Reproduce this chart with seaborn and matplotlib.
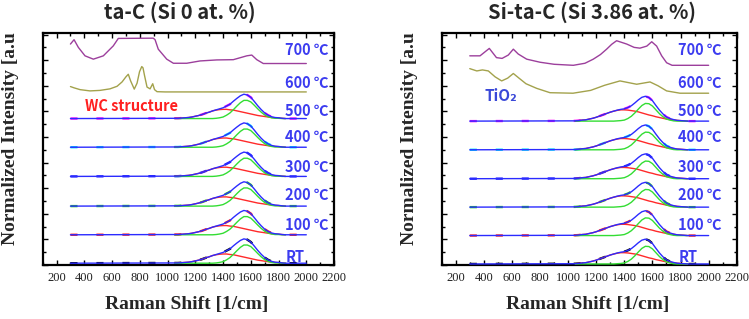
import matplotlib
matplotlib.use("Agg")
import matplotlib.pyplot as plt
from matplotlib.ticker import MultipleLocator
import pandas as pd
import seaborn as sns

# ---- data ---------------------------------------------------------------
TEMP_LABELS = ["RT", "100 ℃", "200 ℃", "300 ℃", "400 ℃", "500 ℃", "600 ℃", "700 ℃"]
LABEL_Y = [0.32, 1.55, 2.72, 3.82, 5.00, 6.03, 7.10, 8.38]
RAW_COLORS = ["black", "#ff2020", "#22cc22", "#2020ff", "#00e0ff", "#ff00ff"]

# x positions (1/cm) of the fitted D / G band samples
FIT_X = [1050, 1075, 1100, 1125, 1150, 1175, 1200, 1225, 1250, 1275, 1300,
         1325, 1350, 1375, 1400, 1425, 1450, 1475, 1500, 1525, 1550, 1575,
         1600, 1625, 1650, 1675, 1700, 1725, 1750, 1775, 1800, 1825, 1850]

# ta-C (Si 0 at. %)
TAC_OFFSETS = [0.07, 1.18, 2.30, 3.46, 4.60, 5.72]
TAC_D = [0.01, 0.01, 0.02, 0.03, 0.04, 0.06, 0.09, 0.12, 0.16, 0.21, 0.25,
         0.30, 0.33, 0.35, 0.36, 0.36, 0.34, 0.33, 0.30, 0.27, 0.24, 0.21,
         0.18, 0.15, 0.12, 0.10, 0.08, 0.06, 0.04, 0.03, 0.02, 0.01, 0.00]
TAC_G = [0.00, 0.00, 0.00, 0.00, 0.00, 0.00, 0.00, 0.00, 0.00, 0.00, 0.00,
         0.00, 0.01, 0.03, 0.06, 0.13, 0.22, 0.35, 0.49, 0.62, 0.71, 0.71,
         0.65, 0.52, 0.38, 0.25, 0.14, 0.07, 0.03, 0.01, 0.01, 0.00, 0.00]
TAC_SUM = [0.01, 0.01, 0.02, 0.03, 0.04, 0.06, 0.09, 0.12, 0.16, 0.21, 0.25,
           0.30, 0.34, 0.38, 0.42, 0.49, 0.56, 0.68, 0.79, 0.89, 0.95, 0.92,
           0.83, 0.67, 0.50, 0.35, 0.22, 0.13, 0.07, 0.04, 0.03, 0.01, 0.00]
TAC_600_X = [300, 326, 369, 441, 513, 585, 636, 672, 700, 717, 733, 760, 780,
             798, 814, 823, 834, 852, 874, 893, 906, 924, 982, 2000]
TAC_600_Y = [6.97, 6.92, 6.85, 6.80, 6.82, 6.88, 6.98, 7.15, 7.35, 7.45, 7.20,
             6.87, 7.10, 7.55, 7.75, 7.70, 7.40, 6.95, 6.88, 7.08, 6.85, 6.77,
             6.76, 6.76]
TAC_700_X = [300, 326, 357, 405, 465, 537, 609, 645, 897, 910, 933, 994, 1042,
             1138, 1234, 1355, 1474, 1571, 1607, 1643, 1690, 2000]
TAC_700_Y = [8.63, 8.80, 8.50, 8.17, 8.04, 8.17, 8.56, 8.85, 8.86, 8.80, 8.43,
             8.04, 7.88, 7.88, 7.97, 8.01, 8.02, 8.17, 8.20, 8.02, 7.87, 7.87]

# Si-ta-C (Si 3.86 at. %)
SITAC_OFFSETS = [0.04, 1.15, 2.26, 3.37, 4.50, 5.62]
SITAC_D = [0.01, 0.02, 0.04, 0.05, 0.08, 0.11, 0.15, 0.20, 0.25, 0.30, 0.35,
           0.39, 0.42, 0.44, 0.44, 0.43, 0.41, 0.39, 0.36, 0.32, 0.28, 0.24,
           0.21, 0.17, 0.14, 0.11, 0.08, 0.06, 0.05, 0.03, 0.02, 0.01, 0.00]
SITAC_G = [0.00, 0.00, 0.00, 0.00, 0.00, 0.00, 0.00, 0.00, 0.00, 0.00, 0.00,
           0.00, 0.01, 0.02, 0.04, 0.10, 0.19, 0.32, 0.47, 0.61, 0.69, 0.68,
           0.59, 0.44, 0.29, 0.17, 0.08, 0.04, 0.01, 0.00, 0.00, 0.00, 0.00]
SITAC_SUM = [0.01, 0.02, 0.04, 0.05, 0.08, 0.11, 0.15, 0.20, 0.25, 0.30, 0.35,
             0.39, 0.43, 0.46, 0.48, 0.53, 0.60, 0.71, 0.83, 0.93, 0.97, 0.92,
             0.80, 0.61, 0.43, 0.28, 0.16, 0.10, 0.06, 0.03, 0.02, 0.01, 0.00]
SITAC_600_X = [300, 350, 390, 432, 480, 527, 570, 610, 650, 700, 776, 871,
               1035, 1160, 1260, 1369, 1488, 1583, 1640, 1701, 1796, 2000]
SITAC_600_Y = [7.67, 7.58, 7.62, 7.58, 7.35, 7.19, 7.30, 7.48, 7.30, 7.08,
               6.90, 6.73, 6.71, 6.82, 7.02, 7.19, 7.06, 7.15, 7.00, 6.80,
               6.71, 6.71]
SITAC_700_X = [300, 373, 439, 490, 530, 574, 610, 645, 705, 800, 900, 1037,
               1120, 1179, 1230, 1274, 1310, 1345, 1417, 1470, 1511, 1560,
               1595, 1630, 1666, 1701, 1740, 2000]
SITAC_700_Y = [8.17, 8.17, 8.46, 8.10, 8.07, 8.20, 8.43, 8.24, 8.04, 7.92,
               7.84, 7.80, 7.88, 8.04, 8.22, 8.43, 8.62, 8.76, 8.63, 8.50,
               8.47, 8.55, 8.72, 8.55, 8.17, 7.90, 7.80, 7.80]

BLUE = "#2b2bff"
RED = "#ff2a2a"
GREEN = "#33dd33"
PURPLE = "#9c3f9c"
OLIVE = "#a3a24c"
LABEL_BLUE = "#3c3cf0"
SANS = ["Noto Sans CJK KR", "DejaVu Sans"]
SERIF = ["Liberation Serif", "DejaVu Serif"]


def line(ax, x, y, color, lw=1.0, z=3, **kw):
    df = pd.DataFrame({"x": x, "y": y})
    sns.lineplot(data=df, x="x", y="y", ax=ax, color=color, lw=lw,
                 sort=False, estimator=None, zorder=z, **kw)


def draw_panel(ax, offsets, d_band, g_band, total, x600, y600, x700, y700,
               title, title_x, label_x):
    trace_x = [300] + FIT_X + [2000]
    for off, raw in zip(offsets, RAW_COLORS):
        trace_y = [off] + [v + off for v in total] + [off]
        # measured spectrum (peeks out under the fitted envelope)
        line(ax, trace_x, trace_y, raw, lw=1.7, z=2, dashes=(3, 8))
        line(ax, FIT_X, [v + off for v in d_band], RED, z=3)
        line(ax, FIT_X, [v + off for v in g_band], GREEN, z=4)
        line(ax, trace_x, trace_y, BLUE, z=5)
    line(ax, x600, y600, OLIVE)
    line(ax, x700, y700, PURPLE)

    for lab, ly in zip(TEMP_LABELS, LABEL_Y):
        ax.text(label_x, ly, lab, color=LABEL_BLUE, fontsize=10.5,
                fontweight="bold", family=SANS, ha="left", va="center")

    ax.set_xlim(100, 2200)
    ax.set_ylim(0, 9.05)
    ax.xaxis.set_major_locator(MultipleLocator(200))
    ax.xaxis.set_minor_locator(MultipleLocator(100))
    ax.yaxis.set_major_locator(MultipleLocator(1))
    ax.yaxis.set_minor_locator(MultipleLocator(0.5))
    ax.tick_params(which="both", direction="in", top=True, right=True,
                   labelleft=False, width=1.0, colors="black")
    ax.tick_params(which="major", length=3.5, labelsize=9, pad=5,
                   labelcolor="#222222")
    ax.tick_params(which="minor", length=2)
    for lab in ax.get_xticklabels():
        lab.set_family(SERIF)
    for sp in ax.spines.values():
        sp.set_linewidth(1.6)
        sp.set_color("black")

    ax.set_xlabel("Raman Shift [1/cm]", fontsize=14, fontweight="bold",
                  family=SERIF)
    ax.set_ylabel("Normalized Intensity [a.u", fontsize=14, fontweight="bold",
                  family=SERIF)
    ax.xaxis.set_label_coords(0.495, -0.135)
    ax.yaxis.set_label_coords(-0.08, 0.545)
    ax.text(title_x, 1.093, title, transform=ax.transAxes, ha="center",
            va="center", fontsize=14.5, fontweight="bold", family=SANS)


def main() -> None:
    sns.set_theme(style="ticks")
    plt.rcParams["font.family"] = SANS
    plt.rcParams["axes.unicode_minus"] = False

    fig = plt.figure(figsize=(7.49, 3.19), dpi=100)
    ax1 = fig.add_axes([0.057, 0.1693, 0.389, 0.7263])
    ax2 = fig.add_axes([0.5897, 0.1693, 0.3939, 0.7263])

    draw_panel(ax1, TAC_OFFSETS, TAC_D, TAC_G, TAC_SUM,
               TAC_600_X, TAC_600_Y, TAC_700_X, TAC_700_Y,
               "ta-C (Si 0 at. %)", 0.471, 1850)
    ax1.text(740, 6.22, "WC structure", color="#ff2020", fontsize=10.5,
             fontweight="bold", family=SANS, ha="center", va="center")

    draw_panel(ax2, SITAC_OFFSETS, SITAC_D, SITAC_G, SITAC_SUM,
               SITAC_600_X, SITAC_600_Y, SITAC_700_X, SITAC_700_Y,
               "Si-ta-C (Si 3.86 at. %)", 0.508, 1785)
    ax2.text(520, 6.6, "TiO₂", color="#3a48d8", fontsize=11,
             fontweight="bold", family=SANS, ha="center", va="center")

    fig.savefig("out.png", dpi=100)
    plt.close(fig)


if __name__ == "__main__":
    main()
